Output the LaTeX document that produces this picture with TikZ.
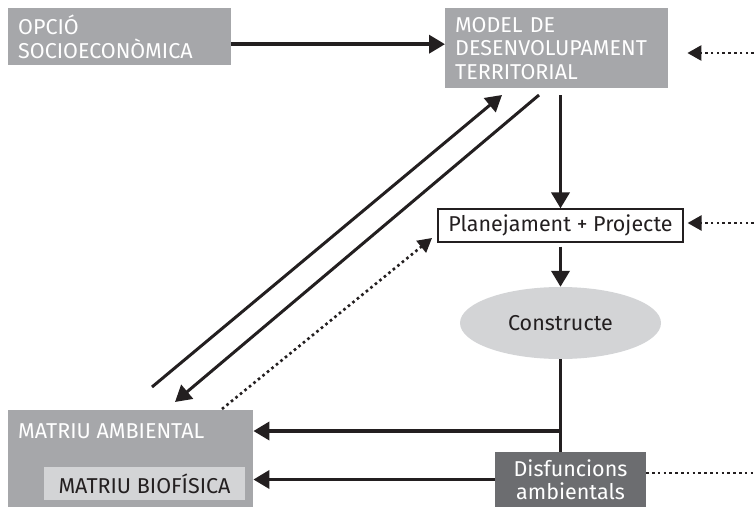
\documentclass[tikz,border=0pt]{standalone}
\usepackage{fontspec}
\setmainfont{Fira Sans}
\usepackage{tikz}
\usetikzlibrary{arrows.meta}
\usetikzlibrary{shapes}
\definecolor{boxgrey}{HTML}{A6A7AA}
\definecolor{palegrey}{HTML}{D3D4D6}
\definecolor{darkgrey}{HTML}{6C6D70}
\definecolor{ink}{HTML}{231F20}
\tikzset{
  every node/.style={font=\fontsize{21.5}{23.5}\selectfont},
  greybox/.style={rectangle, fill=boxgrey, text=white, anchor=north west, inner xsep=10pt, inner ysep=0pt, align=left},
  flow/.style={draw=ink, line width=3.6pt, -{Triangle[length=16pt,width=18pt]}},
  link/.style={draw=ink, line width=3pt},
  feed/.style={draw=ink, line width=2.6pt, dash pattern=on 2.6pt off 3.2pt, -{Triangle[length=14pt,width=15pt]}},
}
\newcommand{\tagbox}[5]{\node[greybox, text width=#3, minimum height=#4] (#1) at #2 {#5};}
\newcommand{\feedin}[3]{\coordinate (#1in) at (754,#2); \draw[feed, shorten >=#3] (#1in) -- (#1in -| #1.east);}

\begin{document}
\begin{tikzpicture}[x=1pt,y=-1pt]
        \useasboundingbox (0,0) rectangle (754,508);
        % top row
        \tagbox{opcio}{(8,8)}{203pt}{57pt}{OPCIÓ\\SOCIOECONÒMICA}
        \tagbox{model}{(445,8)}{203pt}{80pt}{MODEL DE\\DESENVOLUPAMENT\\TERRITORIAL}

        % middle column
        \node[draw=ink, line width=1.2pt, text=ink, minimum width=245pt, minimum height=33pt, inner sep=0pt] (plan) at (560.5,225.5) {Planejament + Projecte};
        \node[ellipse, fill=palegrey, text=ink, minimum width=201pt, minimum height=72pt] (constr) at (560.5,323) {Constructe};
        \node[rectangle, fill=darkgrey, text=white, align=center, minimum width=151pt, minimum height=55pt, inner sep=0pt] (disf) at (570.5,479.5) {Disfuncions\\ambientals};

        % bottom left
        \node[greybox, minimum width=245pt, minimum height=97pt, inner sep=0pt] (matriu) at (8,410) {};
        \node[anchor=west, text=white, inner sep=0pt] (ambtxt) at (18,431) {MATRIU AMBIENTAL};
        \node[fill=palegrey, text=ink, minimum width=201pt, minimum height=33pt, inner sep=0pt] (bio) at (144.5,483.5) {MATRIU BIOFÍSICA};

        % arrows
        \draw[flow] ([yshift=-7.5pt]opcio.east) -- ([yshift=4pt]model.west);
        \draw[flow, shorten <=7pt] (plan.north |- model.south) -- (plan.north);
        \draw[flow, shorten <=4pt] (plan.south) -- (constr.north);
        \draw[link] (constr.south) -- (constr.south |- disf.north);
        \draw[flow] (constr.south |- ambtxt.west) -- (matriu.east |- ambtxt.west);
        \draw[flow] (disf.west) -- (disf.west -| matriu.east);

        % diagonals
        \coordinate (lowA) at (152,387);
        \coordinate (highA) at (502,95);
        \coordinate (highB) at (539,95);
        \coordinate (lowB) at (175,402);
        \coordinate (lowC) at (222,409);
        \coordinate (highC) at (432,238);
        \draw[flow, line width=3pt] (lowA) -- (highA);
        \draw[flow, line width=3pt] (highB) -- (lowB);
        \draw[feed] (lowC) -- (highC);

        % outside influences
        \feedin{model}{53}{19pt}
        \feedin{plan}{223}{4pt}
        \coordinate (outC) at (754,473);
        \draw[feed, -] (outC -| disf.east) -- (outC);
\end{tikzpicture}
\end{document}
